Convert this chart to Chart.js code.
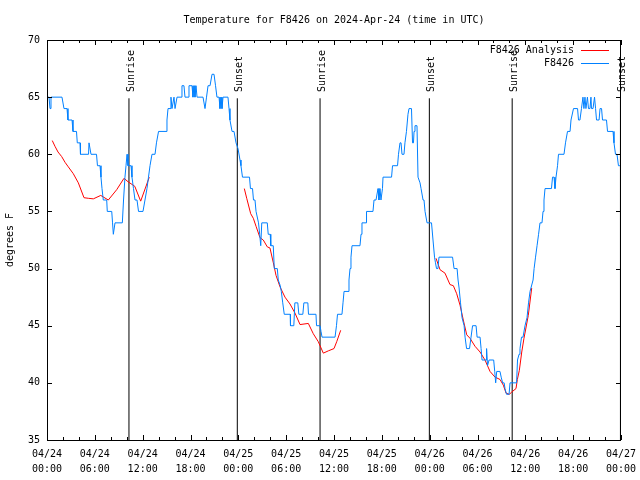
<!DOCTYPE html>
<html><head><meta charset="utf-8">
<script src="https://cdn.jsdelivr.net/npm/chart.js@4.4.0/dist/chart.umd.min.js"></script>
<style>html,body{margin:0;padding:0;background:#fff;}#wrap{width:640px;height:480px;}</style>
</head><body><div id="wrap"><canvas id="c" width="640" height="480"></canvas></div>
<script>
const titleText = 'Temperature for F8426 on 2024-Apr-24 (time in UTC)';
const yAxisLabel = 'degrees F';
const tickDates = ['04/24','04/24','04/24','04/24','04/25','04/25','04/25','04/25','04/26','04/26','04/26','04/26','04/27'];
const tickTimes = ['00:00','06:00','12:00','18:00','00:00','06:00','12:00','18:00','00:00','06:00','12:00','18:00','00:00'];

const obsLabel = 'F8426';
const obsHours = [0,0.25,0.38,0.50,1.88,2.13,2.51,2.63,3.14,3.26,3.70,3.80,4.14,4.20,5.21,5.27,5.39,5.52,6.21,6.33,6.65,6.77,6.90,7.06,7.49,7.56,8.12,8.22,8.32,8.40,8.53,9.45,9.60,9.78,9.91,10.04,10.16,10.54,10.66,10.85,11.04,11.29,11.48,12.04,12.29,12.54,12.73,12.92,13.17,13.55,13.73,13.99,14.93,15.05,15.18,15.43,15.55,15.68,15.80,15.93,16.06,16.18,16.31,16.81,16.93,17.18,17.31,17.69,17.81,18.19,18.31,18.44,18.56,18.69,18.82,19.57,19.82,20.01,20.20,20.45,20.70,20.95,21.14,21.32,21.58,21.70,21.83,21.95,22.08,22.70,22.83,22.95,23.21,23.46,23.71,23.96,24.21,24.33,24.52,25.40,25.52,25.78,25.90,26.09,26.22,26.34,26.53,26.68,26.81,26.94,27.63,27.75,28.00,28.07,28.38,28.51,28.89,29.01,29.26,29.39,29.57,29.76,30.51,30.54,30.96,31.09,31.46,31.59,32.09,32.22,32.72,32.80,33.74,33.81,34.25,34.37,34.50,36.13,36.31,36.44,37.00,37.13,37.26,37.76,37.88,38.01,38.13,38.26,39.26,39.39,39.51,40.02,40.08,40.89,41.02,41.27,41.52,41.64,41.77,41.89,42.08,42.15,43.22,43.34,43.97,44.09,44.28,44.41,44.53,44.78,44.90,45.09,45.28,45.41,45.72,45.85,45.97,46.04,46.16,46.41,46.54,46.79,46.92,47.17,47.29,47.42,47.67,48.23,48.42,48.61,48.73,48.86,49.04,49.17,50.87,51.06,51.44,51.56,51.69,51.87,52.06,52.32,52.44,52.63,53.00,53.19,53.38,53.82,53.95,54.32,54.45,54.57,55.07,55.14,55.26,55.45,56.03,56.16,56.28,56.41,56.82,56.97,57.15,57.34,57.45,57.64,57.96,58.08,58.90,59.02,59.21,59.33,59.52,59.71,59.96,60.21,60.40,60.59,60.97,61.10,61.28,61.47,61.66,61.84,62.09,62.22,62.34,62.47,63.28,63.41,63.60,63.72,63.85,64.04,64.16,64.85,65.04,65.29,65.61,65.73,66.04,66.23,66.55,66.67,66.85,67.04,67.23,67.35,67.48,67.60,67.79,67.92,68.11,68.23,68.30,68.49,68.68,68.81,68.93,69.25,69.37,69.56,69.68,70.18,70.31,71.00,71.12,71.31,71.50,71.68,71.87];
const obsTemps = [65,65,64,65,65,64,64,63,63,62,62,61,61,60,60,61,61,60,60,59,59,58,57,56,56,55,55,54,53,53,54,54,56,58,59,60,59,59,58,57,56,56,55,55,56,57,58,59,60,60,61,62,62,63,64,64,65,64,64,65,64,64,65,65,66,66,65,65,66,66,65,66,65,66,65,65,64,65,66,66,67,67,66,65,65,64,65,64,65,65,64,63,62,62,61,60.5,59.5,59,58,58,57,57,56,56,55,55,54,53,52,54,54,53,53,52,52,50,50,49,48.5,48,47,46,46,45,45,47,47,46,46,47,47,46,46,45,45,44.5,44,44,45,46,46,47,48,48,49,50,51,52,52,53,54,54,55,55,56,56,57,56,57,56,57,58,58,59,59,60,61,61,60,60,61,62,63.5,64,64,61,61,62,62.5,62.5,58,57.5,57,56,56,55,54,54,52.5,51,50.5,50,50,51,51,50,50,49,48.3,47,45.7,45,44,43,43,44,45,45,44,44,43,42,42,43,41.5,42,42,41,40,41,41,40.5,40,40,39.5,39,39,40,40,42,42.5,43,44,44,45,45.7,47,48,49,50,51,52,53,54,54,55,56,57,57,58,58,57,58,59,60,60,61,62,62,63,64,64,64,63,63,64,65,64,65,64,65,64,64,65,64,64,65,64,63,63,64,64,63,63,62,62,61,60,60,59,59];

const anaLabel = 'F8426 Analysis';
const anaHours = [0.66,1.00,1.38,1.84,2.26,2.67,3.30,3.93,4.64,5.18,5.81,6.74,7.69,8.74,9.66,10.16,11.01,11.75,12.83,
  18.0,
  24.75,25.05,25.55,25.88,26.22,26.72,27.13,27.63,27.97,28.39,28.73,29.23,29.85,30.48,31.11,31.74,32.78,33.40,34.03,34.66,35.29,36.00,36.34,36.84,
  42.0,
  48.80,49.30,49.92,50.55,50.97,51.39,51.81,52.22,52.65,53.06,53.69,54.32,54.94,55.57,56.20,56.82,57.24,57.58,58.00,58.30,58.83,59.00,59.25,59.55,59.83,60.37,60.80];
const anaTemps = [61.2,60.7,60.2,59.8,59.3,58.9,58.3,57.5,56.2,56.15,56.1,56.4,56.0,56.9,57.9,57.6,57.2,55.9,58.0,
  null,
  57.0,56.15,54.8,54.4,53.7,52.7,52.5,51.9,51.8,50.5,49.4,48.4,47.5,46.9,46.1,45.1,45.2,44.3,43.6,42.6,42.8,43.0,43.6,44.6,
  null,
  50.9,49.9,49.6,48.6,48.5,47.8,46.8,45.5,44.2,43.9,43.2,42.7,42.0,41.0,40.5,40.3,39.8,39.1,39.0,39.2,39.5,40.3,41.1,42.7,43.9,45.9,48.3];

const sunHours = [10.28, 23.87, 34.25, 47.96, 58.35, 71.93];
const sunNames = ['Sunrise','Sunset','Sunrise','Sunset','Sunrise','Sunset'];

const FONT = 'DejaVu Sans Mono';
Chart.defaults.font.family = FONT;
Chart.defaults.font.size = 10;
Chart.defaults.color = '#000';

const toPts = (xs, ys) => xs.map((v, i) => ({x: v, y: ys[i]}));
const sunPts = [];
sunHours.forEach(h => { sunPts.push({x: h, y: 35}, {x: h, y: 64.9}, {x: h, y: null}); });

const decor = {
  id: 'decor',
  afterDraw(chart) {
    const {ctx, chartArea: a, scales: {x, y}} = chart;
    ctx.save();
    ctx.strokeStyle = '#000';
    ctx.lineWidth = 1;
    ctx.strokeRect(a.left + 0.5, a.top + 0.5, a.right - a.left - 1, a.bottom - a.top);
    ctx.beginPath();
    for (let h = 0; h <= 72; h += 2) {
      const px = Math.round(x.getPixelForValue(h)) + 0.5;
      const len = (h % 6 === 0) ? 5 : 3;
      ctx.moveTo(px, a.bottom); ctx.lineTo(px, a.bottom - len);
      ctx.moveTo(px, a.top); ctx.lineTo(px, a.top + len);
    }
    for (let v = 35; v <= 70; v += 5) {
      const py = Math.round(y.getPixelForValue(v)) + 0.5;
      ctx.moveTo(a.left, py); ctx.lineTo(a.left + 5, py);
      ctx.moveTo(a.right, py); ctx.lineTo(a.right - 5, py);
    }
    ctx.stroke();
    ctx.fillStyle = '#000';
    ctx.font = '10px "' + FONT + '"';
    ctx.textAlign = 'center';
    ctx.textBaseline = 'middle';
    ctx.fillText(titleText, (a.left + a.right) / 2, 20);
    sunHours.forEach((h, i) => {
      const px = Math.round(x.getPixelForValue(h));
      ctx.save();
      ctx.translate(px + 5, 92);
      ctx.rotate(-Math.PI / 2);
      ctx.textAlign = 'left';
      ctx.textBaseline = 'alphabetic';
      ctx.fillText(sunNames[i], 0, 0);
      ctx.restore();
    });
    const rows = [[anaLabel, '#ff0000'], [obsLabel, '#0080ff']];
    rows.forEach((r, i) => {
      const ry = 50 + i * 13;
      ctx.textAlign = 'right';
      ctx.textBaseline = 'middle';
      ctx.fillStyle = '#000';
      ctx.fillText(r[0], a.right - 47, ry);
      ctx.strokeStyle = r[1];
      ctx.beginPath();
      ctx.moveTo(a.right - 40, ry + 0.5);
      ctx.lineTo(a.right - 12, ry + 0.5);
      ctx.stroke();
    });
    ctx.restore();
  }
};

new Chart(document.getElementById('c'), {
  type: 'line',
  data: {
    datasets: [
      {label: obsLabel, data: toPts(obsHours, obsTemps), borderColor: '#0080ff', borderWidth: 1, pointRadius: 0, tension: 0, spanGaps: false},
      {label: anaLabel, data: toPts(anaHours, anaTemps), borderColor: '#ff0000', borderWidth: 1, pointRadius: 0, tension: 0, spanGaps: false},
      {label: 'sun', data: sunPts, borderColor: '#000000', borderWidth: 1, pointRadius: 0, tension: 0, spanGaps: false}
    ]
  },
  options: {
    responsive: false,
    animation: false,
    devicePixelRatio: 1,
    layout: {padding: {top: 40, right: 19, bottom: 0, left: 0}},
    plugins: {legend: {display: false}, tooltip: {enabled: false}, title: {display: false}},
    scales: {
      x: {
        type: 'linear', min: 0, max: 72,
        grid: {display: false, drawTicks: false},
        border: {display: false},
        ticks: {
          stepSize: 6, padding: 7, maxRotation: 0, autoSkip: false,
          font: {size: 10, lineHeight: 1.5},
          callback: (v) => { const i = Math.round(v / 6); return [tickDates[i], tickTimes[i]]; }
        },
        afterFit: (s) => { s.height = 40; s.paddingLeft = 0; s.paddingRight = 0; }
      },
      y: {
        min: 35, max: 70,
        grid: {display: false, drawTicks: false},
        border: {display: false},
        ticks: {stepSize: 5, padding: 7, font: {size: 10}},
        title: {display: true, text: yAxisLabel, font: {size: 10}, padding: {top: 4, bottom: 0}},
        afterFit: (s) => { s.width = 47; s.paddingTop = 0; s.paddingBottom = 0; }
      }
    }
  },
  plugins: [decor]
});
</script>
</body></html>
